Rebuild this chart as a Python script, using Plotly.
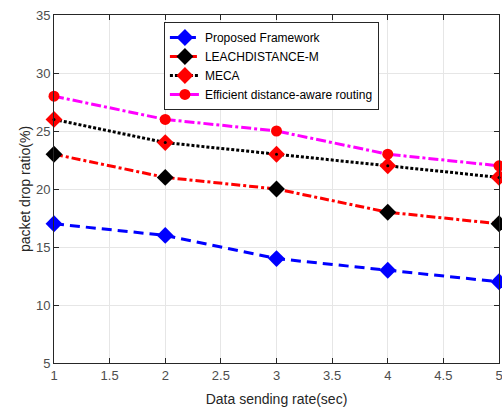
import plotly.graph_objects as go

rate = [1, 2, 3, 4, 5]
proposed = [17, 16, 14, 13, 12]
leach = [23, 21, 20, 18, 17]
meca = [26, 24, 23, 22, 21]
efficient = [28, 26, 25, 23, 22]
names = ["Proposed Framework", "LEACHDISTANCE-M", "MECA", "Efficient distance-aware routing"]

fig = go.Figure()
fig.add_trace(go.Scatter(x=rate, y=proposed, name=names[0], mode="lines+markers", cliponaxis=False,
                         line=dict(color="#0000ff", width=3, dash="10px,6px"),
                         marker=dict(symbol="diamond", size=13, color="#0000ff")))
fig.add_trace(go.Scatter(x=rate, y=leach, name=names[1], mode="lines+markers", cliponaxis=False,
                         line=dict(color="#ff0000", width=3, dash="9px,3px,3px,3px"),
                         marker=dict(symbol="diamond", size=13, color="#000000")))
fig.add_trace(go.Scatter(x=rate, y=meca, name=names[2], mode="lines+markers", cliponaxis=False,
                         line=dict(color="#000000", width=3, dash="3px,2px"),
                         marker=dict(symbol="diamond", size=13, color="#ff0000")))
fig.add_trace(go.Scatter(x=rate, y=meca, showlegend=False, mode="markers", hoverinfo="skip",
                         cliponaxis=False,
                         marker=dict(symbol="circle", size=3, color="#000000")))
fig.add_trace(go.Scatter(x=rate, y=efficient, name=names[3], mode="lines+markers", cliponaxis=False,
                         line=dict(color="#ff00ff", width=3, dash="10px,3px,3px,3px"),
                         marker=dict(symbol="circle", size=11, color="#ff0000")))

axis_common = dict(showgrid=True, gridcolor="#e6e6e6", gridwidth=1,
                   showline=True, linecolor="#262626", linewidth=1, mirror="ticks",
                   ticks="inside", ticklen=5, tickcolor="#262626",
                   tickfont=dict(family="Liberation Sans, Arial", size=13, color="#4d4d4d"),
                   zeroline=False, automargin=False, ticklabeloverflow="allow")

fig.update_layout(
    width=502, height=407,
    margin=dict(l=54, r=3, t=15, b=44),
    paper_bgcolor="white", plot_bgcolor="white",
    font=dict(family="Liberation Sans, Arial", size=12, color="#262626"),
    xaxis=dict(range=[1, 5], tickvals=[1, 1.5, 2, 2.5, 3, 3.5, 4, 4.5, 5],
               ticktext=["1", "1.5", "2", "2.5", "3", "3.5", "4", "4.5", "5"],
               title=dict(text="Data sending rate(sec)", standoff=12,
                          font=dict(size=14, color="#262626")),
               **axis_common),
    yaxis=dict(range=[5, 35], tickvals=[5, 10, 15, 20, 25, 30, 35],
               title=dict(text="packet drop ratio(%)", standoff=2,
                          font=dict(size=14, color="#262626")),
               **axis_common),
    legend=dict(x=0.247, y=0.98, xanchor="left", yanchor="top",
                bgcolor="white", bordercolor="#262626", borderwidth=1,
                font=dict(family="Liberation Sans, Arial", size=12, color="#000000"),
                tracegroupgap=0, itemwidth=30),
    showlegend=True,
)

fig.write_html("out.html", config={"displayModeBar": False},
               post_script="document.body.style.margin='0';document.body.style.overflow='hidden';")
